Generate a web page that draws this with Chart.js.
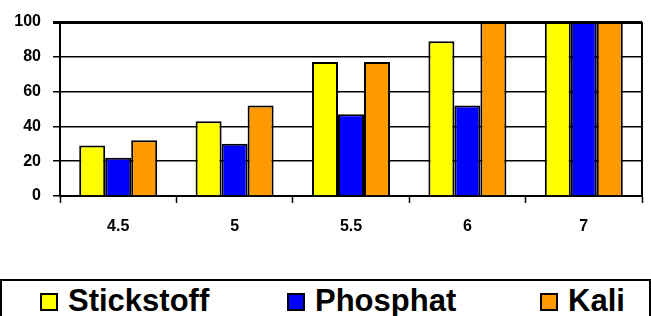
<!DOCTYPE html>
<html>
<head>
<meta charset="utf-8">
<script src="https://cdn.jsdelivr.net/npm/chart.js@4.4.0/dist/chart.umd.min.js"></script>
<style>
    html, body { margin: 0; padding: 0; background: #fff; overflow: hidden; }
    #wrap { position: relative; width: 651px; height: 316px; }
    #chart { display: block; }
    #legend {
        position: absolute; left: 0; top: 279px; width: 651px; height: 37px;
        box-sizing: border-box; border: 2px solid #000; border-bottom: none;
        font-family: "Liberation Sans", Arial, sans-serif; font-weight: bold; font-size: 31px;
    }
    .item { position: absolute; top: 0; height: 37px; }
    .box { position: absolute; top: 12px; width: 18px; height: 18px; box-sizing: border-box; border: 2px solid #000; }
    .txt { position: absolute; top: 4px; left: 28px; line-height: 31px; white-space: nowrap; }
</style>
</head>
<body>
<div id="wrap">
    <canvas id="chart" width="651" height="279"></canvas>
    <div id="legend"></div>
</div>
<script>
    const categories = ['4.5', '5', '5.5', '6', '7'];
    const stickstoff = [29, 43, 77, 89, 100];
    const phosphat = [22, 30, 47, 52, 100];
    const kali = [32, 52, 77, 100, 100];
    const yTicks = [0, 20, 40, 60, 80, 100];

    const seriesNames = ['Stickstoff', 'Phosphat', 'Kali'];
    const seriesColors = ['#ffff00', '#0000ff', '#ff9900'];
    const seriesData = [stickstoff, phosphat, kali];
    const legendLeft = [40, 287, 540];

    // Legende als HTML unter dem Diagramm
    const legend = document.getElementById('legend');
    seriesNames.forEach((name, i) => {
        const item = document.createElement('div');
        item.className = 'item';
        item.style.left = (legendLeft[i] - 2) + 'px';
        item.innerHTML = '<div class="box" style="background:' + seriesColors[i] + '"></div><span class="txt">' + name + '</span>';
        legend.appendChild(item);
    });

    // rechter Rand der Zeichenfläche
    const frameRight = {
        id: 'frameRight',
        afterDatasetsDraw(chart) {
            const a = chart.chartArea;
            const c = chart.ctx;
            c.save();
            c.strokeStyle = '#000';
            c.lineWidth = 2;
            c.beginPath();
            c.moveTo(a.right, a.top);
            c.lineTo(a.right, a.bottom);
            c.stroke();
            c.restore();
        }
    };

    const ctx = document.getElementById('chart').getContext('2d');
    new Chart(ctx, {
        type: 'bar',
        data: {
            labels: categories,
            datasets: seriesNames.map((name, i) => ({
                label: name,
                data: seriesData[i],
                backgroundColor: seriesColors[i],
                borderColor: '#000',
                borderWidth: 2,
                categoryPercentage: 0.67,
                barPercentage: 1
            }))
        },
        options: {
            responsive: false,
            animation: false,
            layout: { padding: { top: 22, right: 9, bottom: 43, left: 0 } },
            plugins: {
                legend: { display: false },
                tooltip: { enabled: false }
            },
            scales: {
                x: {
                    afterFit: function (scale) { scale.height = 40; },
                    grid: { offset: true, drawOnChartArea: false, drawTicks: true, tickLength: 7, tickColor: '#000', tickWidth: 1.5 },
                    border: { color: '#000', width: 2 },
                    ticks: { color: '#000', padding: 14, font: { family: 'Liberation Sans', weight: 'bold', size: 16 } }
                },
                y: {
                    min: 0,
                    max: 100,
                    afterFit: function (scale) { scale.width = 60; },
                    afterBuildTicks: function (scale) { scale.ticks = yTicks.map(v => ({ value: v })); },
                    grid: {
                        color: '#000',
                        lineWidth: ctx => ctx.tick && ctx.tick.value === 100 ? 3 : 1.5,
                        tickLength: 7,
                        tickColor: '#000'
                    },
                    border: { color: '#000', width: 2 },
                    ticks: { color: '#000', padding: 12, font: { family: 'Liberation Sans', weight: 'bold', size: 16 } }
                }
            }
        },
        plugins: [frameRight]
    });
</script>
</body>
</html>
